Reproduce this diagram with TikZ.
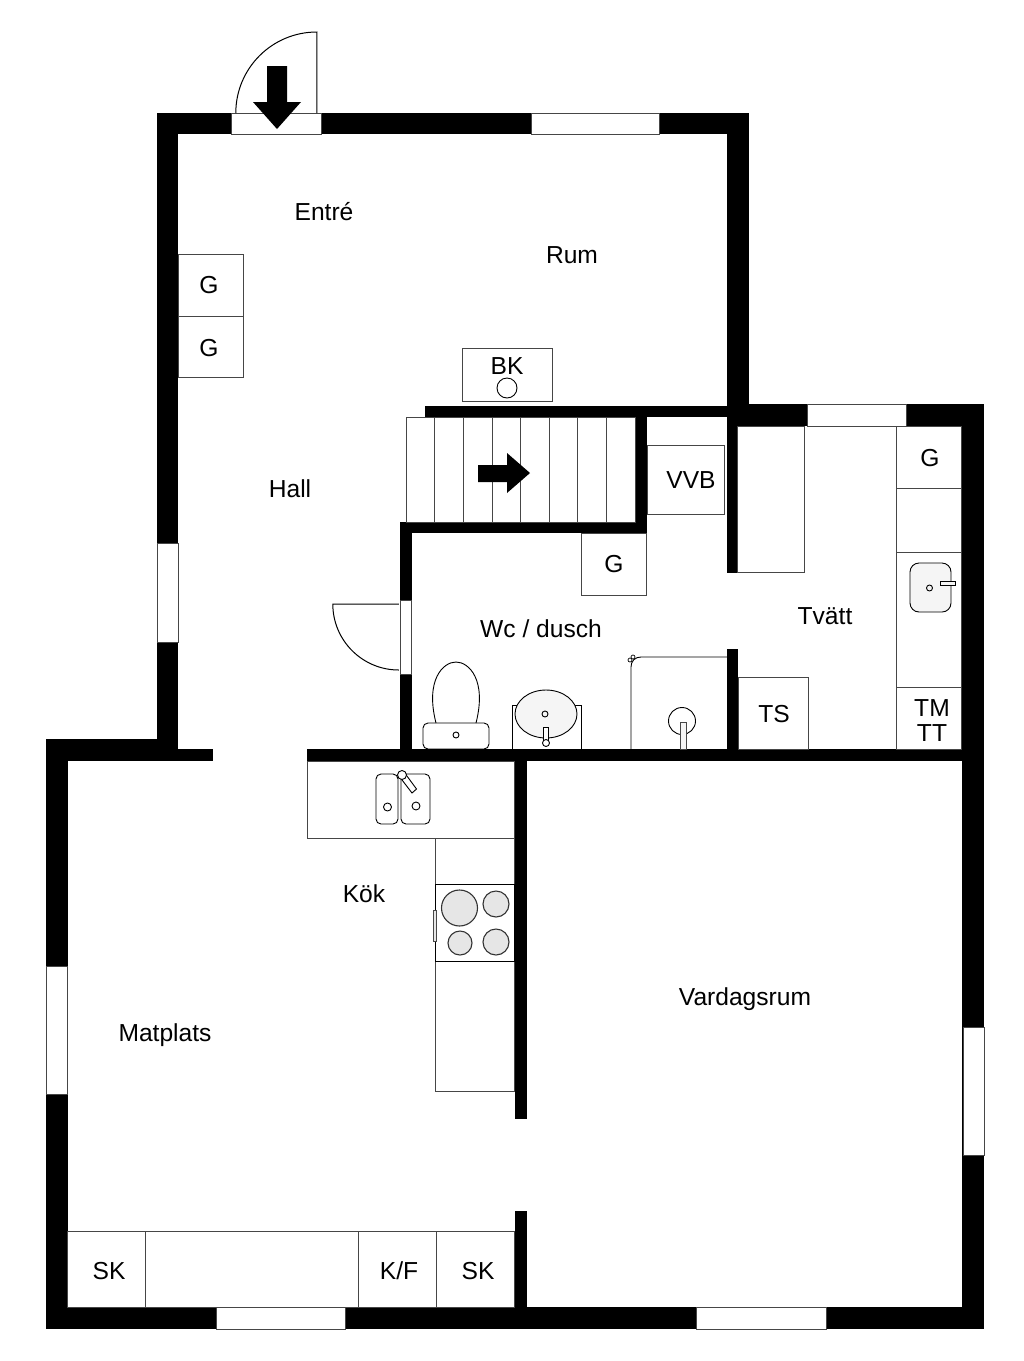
\documentclass[tikz,border=0pt]{standalone}
\usepackage{fontspec}
\setmainfont{Liberation Sans}
\usepackage{tikz}
\definecolor{fixture}{RGB}{70, 70, 70}
\definecolor{basin}{RGB}{245, 245, 245}
\definecolor{plate}{RGB}{230, 230, 230}
\tikzstyle{wall} = [fill=black]
\tikzstyle{window} = [fill=white, draw=fixture, line width=0.8pt]
\tikzstyle{unit} = [draw=fixture, line width=1pt, xshift=-0.2pt]
\tikzstyle{tap} = [draw=black, line width=0.9pt]
\tikzstyle{sink} = [draw=black, line width=0.9pt, fill=basin]
\tikzstyle{hob} = [draw=black!80, line width=1.1pt, fill=plate]
\tikzstyle{label} = [inner sep=0pt, text height=17.5pt, text depth=0pt, yshift=-0.5pt, font=\fontsize{24.6}{26}\selectfont]

\begin{document}
\begin{tikzpicture}[x=1pt, y=-1pt]
    \useasboundingbox (0, 0) rectangle (1024, 1361);

    % Outer walls
    \fill[wall] (157, 113) rectangle (749, 134);
    \fill[wall] (157, 113) rectangle (178, 761);
    \fill[wall] (727, 113) rectangle (749, 426);
    \fill[wall] (727, 404) rectangle (984, 426);
    \fill[wall] (962, 404) rectangle (984, 1329);
    \fill[wall] (46, 739) rectangle (178, 761);
    \fill[wall] (157, 749) rectangle (213, 761);
    \fill[wall] (46, 739) rectangle (68, 1329);
    \fill[wall] (46, 1307) rectangle (984, 1329);

    % Inner walls
    \fill[wall] (307, 749) rectangle (984, 761);
    \fill[wall] (400, 522) rectangle (412, 761);
    \fill[wall] (400, 522) rectangle (647, 533);
    \fill[wall] (636, 406) rectangle (647, 533);
    \fill[wall] (425, 406) rectangle (749, 417);
    \fill[wall] (727, 406) rectangle (738, 573);
    \fill[wall] (727, 649) rectangle (738, 761);
    \fill[wall] (515, 749) rectangle (527, 1119);
    \fill[wall] (515, 1211) rectangle (527, 1329);

    % Windows and door openings
    \draw[window] (231.5, 113) rectangle (321.5, 134);
    \draw[window] (531.5, 113) rectangle (659, 134);
    \draw[window] (157.5, 543) rectangle (178, 642);
    \draw[window] (400, 600) rectangle (411, 674);
    \draw[window] (807, 404.5) rectangle (906, 426);
    \draw[window] (46.5, 966) rectangle (67.5, 1094);
    \draw[window] (963, 1027) rectangle (984, 1155);
    \draw[window] (216.5, 1307.5) rectangle (345, 1329);
    \draw[window] (696.5, 1307.5) rectangle (826, 1329);

    % Doors
    \draw[unit, black] (317, 113) -- (317, 32) arc[start angle=270, end angle=180, radius=81];
    \draw[unit, black] (399, 604) -- (333, 604) arc[start angle=180, end angle=90, radius=66];
    \fill (267, 66) -- (287, 66) -- (287, 102) -- (301, 102) -- (277, 129) -- (253, 102) -- (267, 102) -- cycle;

    % Stairs
    \draw[unit] (406.5, 417) rectangle (636, 522);
    \foreach \xstep in {435, 464, 493, 521, 550, 578, 607}
        \draw[unit] (\xstep, 417) -- (\xstep, 522);
    \fill (478, 465) -- (507, 465) -- (507, 453) -- (530, 473) -- (507, 493) -- (507, 482) -- (478, 482) -- cycle;

    % Entre and hall
    \draw[unit] (179, 254) rectangle (244, 316);
    \draw[unit] (179, 316) rectangle (244, 377);
    \draw[unit] (463, 348) rectangle (553, 401);
    \draw[tap] (507, 388) circle [radius=10];

    % Boiler, wardrobe, laundry
    \draw[unit] (648, 445) rectangle (725, 514);
    \draw[unit] (582, 533) rectangle (647, 595);
    \draw[unit] (738, 426) rectangle (805, 572);
    \draw[unit] (739, 677) rectangle (809, 749);
    \draw[unit] (897, 426) rectangle (962, 749);
    \foreach \ystep in {488, 552, 687}
        \draw[unit] (897, \ystep) -- (962, \ystep);
    \draw[sink, rounded corners=9pt] (910, 563) rectangle (951, 612);
    \draw[tap] (929.5, 588) circle [radius=3];
    \draw[tap, fill=basin] (940, 581) rectangle (955, 585.5);

    % Wc
    \draw[tap] (436, 723) .. controls (425, 680) and (443, 662) .. (456, 662) .. controls (469, 662) and (487, 680) .. (476, 723);
    \draw[tap, rounded corners=5pt] (423, 723) rectangle (489, 749);
    \draw[tap] (456, 735) circle [radius=3];
    \draw[tap] (512, 749) -- (512, 705) -- (581, 705) -- (581, 749);
    \draw[sink] (546, 714) ellipse [x radius=31, y radius=24];
    \draw[tap] (545, 714) circle [radius=3];
    \draw[tap, fill=white] (543.5, 727) rectangle (548, 745);
    \draw[tap, fill=white] (546, 743) circle [radius=3.5];

    % Shower
    \draw[tap] (631, 749) -- (631, 667) .. controls (631, 661) and (635, 657) .. (641, 657) -- (727, 657);
    \draw[tap, line width=0.7pt, fill=white] (630, 660) circle [radius=2];
    \draw[tap, line width=0.7pt, fill=white] (633, 657) circle [radius=2];
    \draw[tap] (682, 721) circle [radius=13.5];
    \draw[tap, draw=fixture, fill=basin] (680, 722) rectangle (686, 749);

    % Kitchen
    \draw[unit] (308, 761) rectangle (515, 838);
    \draw[unit] (436, 838) rectangle (515, 1091);
    \draw[unit, black] (436, 884) rectangle (515, 961);
    \draw[tap, rounded corners=5pt] (376, 774) rectangle (398, 824);
    \draw[tap, rounded corners=5pt] (401, 774) rectangle (430, 824);
    \draw[tap] (387.5, 807) circle [radius=4];
    \draw[tap] (416, 806) circle [radius=4];
    \draw[tap, fill=white] (404, 772) -- (416.5, 789) -- (412, 793) -- (399, 776) -- cycle;
    \draw[tap, fill=white] (402, 775) circle [radius=4.5];
    \draw[hob] (459.5, 908) circle [radius=18];
    \draw[hob] (496, 904) circle [radius=13];
    \draw[hob] (460, 943) circle [radius=12];
    \draw[hob] (496, 942) circle [radius=13];
    \draw[unit, fill=plate] (433.5, 910) rectangle (436.5, 941);

    % Bottom cupboards
    \draw[unit] (68, 1231) rectangle (515, 1307);
    \foreach \xstep in {146, 359, 437}
        \draw[unit] (\xstep, 1231) -- (\xstep, 1307);

    % Labels
    \node[label] (entre) at (324, 211) {Entré};
    \node[label] (rum) at (572, 254) {Rum};
    \node[label] (hall) at (290, 488) {Hall};
    \node[label] (wc) at (541, 628) {Wc / dusch};
    \node[label] (tvatt) at (825, 615) {Tvätt};
    \node[label] (kok) at (364, 893) {Kök};
    \node[label] (vardagsrum) at (745, 996) {Vardagsrum};
    \node[label] (matplats) at (165, 1032) {Matplats};
    \node[label] (g1) at (209, 284) {G};
    \node[label] (g2) at (209, 347) {G};
    \node[label] (bk) at (507, 365) {BK};
    \node[label] (vvb) at (691, 479) {VVB};
    \node[label] (g3) at (614, 563) {G};
    \node[label] (g4) at (930, 457) {G};
    \node[label] (ts) at (774, 713) {TS};
    \node[label] (tm) at (932, 707) {TM};
    \node[label] (tt) at (932, 732) {TT};
    \node[label] (sk1) at (109, 1270) {SK};
    \node[label] (kf) at (399, 1270) {K/F};
    \node[label] (sk2) at (478, 1270) {SK};
\end{tikzpicture}
\end{document}
